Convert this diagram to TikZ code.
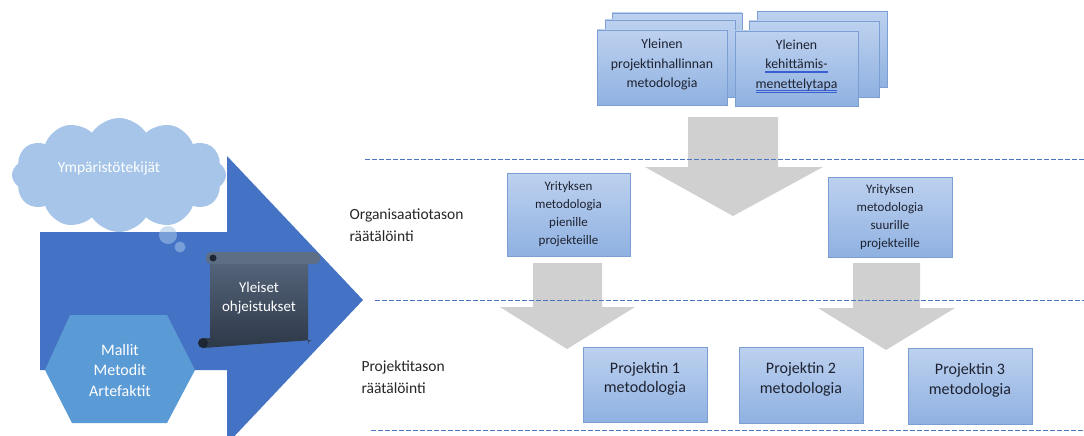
\documentclass[tikz,border=0pt]{standalone}
\usepackage{fontspec}
\setmainfont{Carlito}
\usetikzlibrary{shapes.symbols}
\definecolor{bigblue}{HTML}{4472C4}
\definecolor{hexblue}{HTML}{5B9BD5}
\definecolor{cloudblue}{HTML}{A6C5E9}
\definecolor{boxtop}{HTML}{BDD1EF}
\definecolor{boxbot}{HTML}{8FB1E1}
\definecolor{boxline}{HTML}{7C9FD3}
\definecolor{txtdark}{HTML}{1E2230}
\definecolor{lbltxt}{HTML}{262626}
\definecolor{arrgray}{HTML}{D0D0D0}
\definecolor{dashblue}{HTML}{4A76C0}
\definecolor{ulblue}{HTML}{3A5FD0}
\definecolor{scrollbar}{HTML}{5E6E84}
\definecolor{scrolltopc}{HTML}{56657B}
\definecolor{scrollbotc}{HTML}{2D3848}
\definecolor{scrolldark}{HTML}{1D2633}
\newcommand\dblul[1]{\setbox0\hbox{#1}\rlap{\color{ulblue}\rule[-2.6pt]{\wd0}{0.45pt}}\rlap{\color{ulblue}\rule[-4.1pt]{\wd0}{0.45pt}}\box0}
\begin{document}
\begin{tikzpicture}[x=1pt,y=-1pt,
  blk/.style={draw=boxline, line width=0.6pt, top color=boxtop, bottom color=boxbot, inner sep=0pt},
  midtxt/.style={text=txtdark, align=center, font=\fontsize{13pt}{18pt}\selectfont},
  toptxt/.style={text=txtdark, align=center, font=\fontsize{13.8pt}{19.5pt}\selectfont},
  bigtxt/.style={text=txtdark, align=center, font=\fontsize{16pt}{19.5pt}\selectfont},
  graya/.style={fill=arrgray},
  sepline/.style={draw=dashblue, line width=0.7pt, dash pattern=on 4.5pt off 2.5pt},
  sidelabel/.style={text=lbltxt, align=left, anchor=west, font=\fontsize{15.5pt}{21.5pt}\selectfont},
  whitetxt/.style={text=white, align=center}
]
\useasboundingbox (0,0) rectangle (1084,436);
\clip (0,0) rectangle (1084,436);
\fill[white] (0,0) rectangle (1084,436);

% big blue arrow
\fill[bigblue] (40,232) -- (227,232) -- (227,156) -- (363,300) -- (227,444) -- (227,370) -- (40,370) -- cycle;

% cloud
\node[cloud, cloud puffs=12, cloud puff arc=115, cloud ignores aspect, minimum width=214pt, minimum height=114pt, fill=cloudblue, inner sep=0pt] (cloud) at (119,175) {};
\node[whitetxt, font=\fontsize{15.5pt}{18pt}\selectfont] (cloudtxt) at (109,168) {Ympäristötekijät};
\fill[cloudblue, opacity=0.55] (168,235) circle (9pt);
\fill[cloudblue, opacity=0.55] (180,247) circle (5.5pt);

% hexagon
\fill[hexblue] (45,370) -- (70,315) -- (167,315) -- (195,370) -- (167,423) -- (72,423) -- cycle;
\node[whitetxt, font=\fontsize{16pt}{20.5pt}\selectfont] (hextxt) at (120,370) {Mallit\\Metodit\\Artefaktit};

% scroll
\shade[top color=scrolltopc, bottom color=scrollbotc] (210,260) -- (308,260) -- (308,344) arc (0:90:-4) -- (203,348) -- (203,338) -- (210,338) -- cycle;
\fill[scrollbar, rounded corners=5pt] (206,252) rectangle (320,264);
\fill[scrolldark] (213,258) circle (3.5pt);
\fill[scrolldark] (203,343) circle (5pt);
\node[whitetxt, font=\fontsize{15pt}{19pt}\selectfont] (scrolltxt) at (259,298) {Yleiset\\ohjeistukset};

% gray block arrows
\fill[graya] (688,117) -- (778,117) -- (778,167) -- (823,167) -- (733,216) -- (645,167) -- (688,167) -- cycle;
\fill[graya] (533,263) -- (602,263) -- (602,307) -- (635,307) -- (567,349) -- (500,307) -- (533,307) -- cycle;
\fill[graya] (853,263) -- (920,263) -- (920,308) -- (955,308) -- (886,350) -- (818,308) -- (853,308) -- cycle;

% top stacks
\node[blk, minimum width=130pt, minimum height=75pt] (l3) at (677,50.5) {};
\node[blk, minimum width=130pt, minimum height=77pt] (l2) at (670,58.5) {};
\node[blk, minimum width=130pt, minimum height=75pt] (l1) at (662,67.5) {};
\node[toptxt] (l1t) at (662,64.5) {Yleinen\\projektinhallinnan\\metodologia};
\node[blk, minimum width=130pt, minimum height=76pt] (r3) at (822,49.5) {};
\node[blk, minimum width=130pt, minimum height=76pt] (r2) at (814,59) {};
\node[blk, minimum width=123pt, minimum height=75pt] (r1) at (796.5,68.5) {};
\node[toptxt] (r1t) at (796.5,66) {Yleinen\\\dblul{kehittämis-}\\\dblul{menettelytapa}};

% middle boxes
\node[blk, midtxt, minimum width=123pt, minimum height=83pt] (pien) at (568.5,214.5) {Yrityksen\\metodologia\\pienille\\projekteille};
\node[blk, midtxt, minimum width=124pt, minimum height=80pt] (suur) at (890,217) {Yrityksen\\metodologia\\suurille\\projekteille};

% bottom boxes
\node[blk, minimum width=124pt, minimum height=75pt] (p1) at (645,384.5) {};
\node[bigtxt] (p1t) at (645,379) {Projektin 1\\metodologia};
\node[blk, minimum width=124pt, minimum height=76pt] (p2) at (801,385) {};
\node[bigtxt] (p2t) at (801,379.5) {Projektin 2\\metodologia};
\node[blk, minimum width=124pt, minimum height=76pt] (p3) at (970,386) {};
\node[bigtxt] (p3t) at (970,380.5) {Projektin 3\\metodologia};

% dashed separators
\draw[sepline] (365,159) -- (1084,159);
\draw[sepline] (375,300) -- (1084,300);
\draw[sepline] (371,430) -- (1084,430);

% side labels
\node[sidelabel] (orglbl) at (346,225) {Organisaatiotason\\räätälöinti};
\node[sidelabel] (prjlbl) at (358,377) {Projektitason\\räätälöinti};
\end{tikzpicture}
\end{document}
